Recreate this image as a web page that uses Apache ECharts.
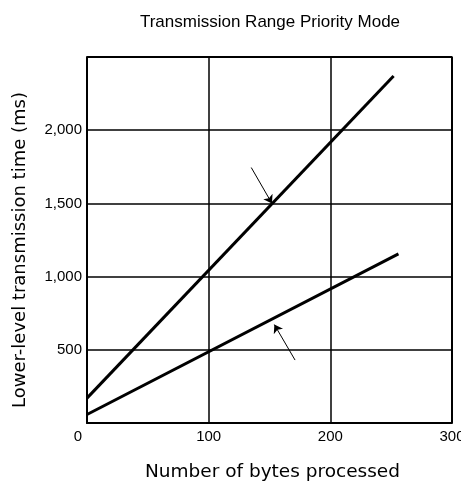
<!DOCTYPE html>
<html>
<head>
<meta charset="utf-8">
<script src="https://cdn.jsdelivr.net/npm/echarts@6/dist/echarts.min.js"></script>
<style>
  html, body { margin: 0; padding: 0; background: #fff; }
  #chart { width: 461px; height: 487px; }
</style>
</head>
<body>
<div id="chart"></div>
<script>
// bytes processed -> transmission time (ms)
const upperLine = [[0, 170], [252, 2370]];
const lowerLine = [[0, 58], [256, 1155]];
// arrow annotations [tail, head]
const upperArrow = [[135, 1745], [152, 1500]];
const lowerArrow = [[171, 430], [154, 672]];
const xTicks = [0, 100, 200, 300];
const yTicks = [500, 1000, 1500, 2000];

const chart = echarts.init(document.getElementById("chart"));

const fnt = "Liberation Sans";

const lineSeries = (data) => ({
  type: "line",
  data: data,
  symbol: "none",
  lineStyle: { color: "#000", width: 3 },
  silent: true,
});

const option = {
  animation: false,
  title: {
    text: "Transmission Range Priority Mode",
    left: 265,
    textAlign: "center",
    top: 9,
    textStyle: { fontFamily: fnt, fontSize: 17, fontWeight: "normal", color: "#000" },
  },
  grid: { left: 87, right: 9, top: 57, bottom: 64, outerBoundsMode: "none", containLabel: false },
  xAxis: {
    type: "value",
    min: 0,
    max: 300,
    interval: 100,
    name: "Number of bytes processed",
    nameLocation: "middle",
    nameGap: 40,
    nameTextStyle: { fontFamily: "DejaVu Sans", fontSize: 18.5, color: "#000", padding: [0, 0, 0, 6] },
    axisLine: { show: true, lineStyle: { color: "#000", width: 2 } },
    axisTick: { show: false },
    axisLabel: {
      fontFamily: fnt, fontSize: 15, color: "#000", margin: 6,
      formatter: (v) => v === 0 ? "{o|0}" : (xTicks.includes(v) ? String(v) : ""),
      rich: { o: { fontFamily: fnt, fontSize: 15, color: "#000", padding: [0, 18, 0, 0] } },
    },
    splitLine: { show: true, lineStyle: { color: "#000", width: 1.5 } },
  },
  yAxis: {
    type: "value",
    min: 0,
    max: 2500,
    interval: 500,
    name: "Lower-level transmission time (ms)",
    nameLocation: "middle",
    nameGap: 58,
    nameTextStyle: { fontFamily: "DejaVu Sans", fontSize: 18, color: "#000", padding: [0, 20, 0, 0] },
    axisLine: { show: true, lineStyle: { color: "#000", width: 2 } },
    axisTick: { show: false },
    axisLabel: {
      fontFamily: fnt, fontSize: 15, color: "#000", margin: 5,
      formatter: (v) => yTicks.includes(v) ? v.toLocaleString("en-US") : "",
    },
    splitLine: { show: true, lineStyle: { color: "#000", width: 1.5 } },
  },
  series: [
    lineSeries(upperLine),
    lineSeries(lowerLine),
    {
      type: "lines",
      coordinateSystem: "cartesian2d",
      symbol: ["none", "arrow"],
      symbolSize: 8,
      lineStyle: { color: "#000", width: 1, opacity: 1 },
      silent: true,
      data: [{ coords: upperArrow }, { coords: lowerArrow }],
    },
    // frame on top and right
    {
      type: "line",
      data: [[0, 2500], [300, 2500], [300, 0]],
      symbol: "none",
      lineStyle: { color: "#000", width: 2 },
      silent: true,
    },
  ],
};

chart.setOption(option);
</script>
</body>
</html>
